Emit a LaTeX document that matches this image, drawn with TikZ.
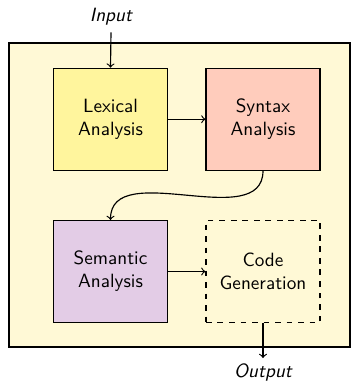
\documentclass[tikz,border=0pt]{standalone}
\usetikzlibrary{arrows}
\definecolor{bgc}{HTML}{FFF9D6}
\definecolor{lexc}{HTML}{FFF59D}
\definecolor{sync}{HTML}{FFCCBC}
\definecolor{semc}{HTML}{E3CCE6}
\tikzset{
  stage/.style={draw, semithick, minimum width=59.4pt, minimum height=53.1pt, align=center, font=\sffamily, inner sep=2pt},
  conn/.style={->, semithick},
  io/.style={font=\sffamily\itshape}
}
\begin{document}
\begin{tikzpicture}[x=0.5208pt,y=-0.5208pt]
\useasboundingbox (0,0) rectangle (360,382);
\node[draw, semithick, fill=bgc, minimum width=177.6pt, minimum height=158.3pt, inner sep=0pt] (frame) at (179.5,195) {};
\node[stage, fill=lexc] (lex) at (110.5,119.2) {Lexical\\Analysis};
\node[stage, fill=sync] (syn) at (263,119.2) {Syntax\\Analysis};
\node[stage, fill=semc] (sem) at (110.5,271.5) {Semantic\\Analysis};
\node[stage, dashed] (code) at (263,271.5) {Code\\Generation};
\node[io] (in) at (111,17) {Input};
\node[io] (out) at (263,372) {Output};
\coordinate (outend) at (263,358);
\draw[conn] (in.south) -- (lex.north);
\draw[conn] (lex.east) -- (syn.west);
\draw[conn] (syn.south) to[out=-90,in=90] (sem.north);
\draw[conn] (sem.east) -- (code.west);
\draw[conn] (code.south) -- (outend);
\end{tikzpicture}
\end{document}
